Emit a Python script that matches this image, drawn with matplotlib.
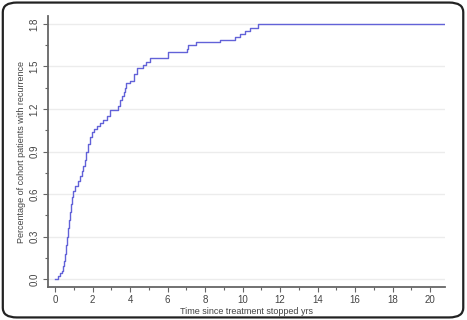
import numpy as np
import matplotlib
matplotlib.use("Agg")
import matplotlib.pyplot as plt
from matplotlib.patches import FancyBboxPatch
from matplotlib.ticker import MultipleLocator

# step curve (time in years, cumulative percentage)
times = [0.0, 0.15, 0.27, 0.35, 0.44, 0.5, 0.55, 0.6, 0.65, 0.7, 0.75, 0.8, 0.85,
         0.9, 0.97, 1.07, 1.2, 1.33, 1.42, 1.5, 1.6, 1.65, 1.75, 1.85, 1.96, 2.1,
         2.25, 2.4, 2.58, 2.75, 2.93, 3.38, 3.45, 3.56, 3.65, 3.72, 3.79, 4.0, 4.2,
         4.36, 4.71, 4.85, 5.07, 6.04, 7.02, 7.1, 7.5, 8.8, 9.6, 9.87, 10.13, 10.4,
         10.84, 20.8]
pct = [0.0, 0.02, 0.04, 0.06, 0.09, 0.13, 0.18, 0.24, 0.30, 0.36, 0.42, 0.47, 0.53,
       0.58, 0.62, 0.66, 0.69, 0.73, 0.76, 0.80, 0.84, 0.90, 0.95, 1.00, 1.04, 1.06,
       1.08, 1.10, 1.12, 1.15, 1.19, 1.22, 1.26, 1.29, 1.32, 1.35, 1.38, 1.40, 1.45,
       1.49, 1.51, 1.53, 1.56, 1.60, 1.62, 1.65, 1.67, 1.69, 1.71, 1.73, 1.75, 1.77,
       1.80, 1.80]
xticks = [0, 2, 4, 6, 8, 10, 12, 14, 16, 18, 20]
yticks = [0.0, 0.3, 0.6, 0.9, 1.2, 1.5, 1.8]

plt.rcParams['font.family'] = ['Liberation Sans', 'DejaVu Sans']
fig = plt.figure(figsize=(4.67, 3.2), dpi=100)

# rounded frame around the whole picture
frame = FancyBboxPatch((0.006, 0.008), 0.986, 0.984, boxstyle="round,pad=0,rounding_size=0.03",
                       transform=fig.transFigure, fill=False, edgecolor="#222222", linewidth=1.6)
fig.patches.append(frame)

ax = fig.add_axes([0.103, 0.103, 0.850, 0.847])
ax.plot(times, pct, drawstyle="steps-post", color="#6262d8", linewidth=1.0)

ax.set_xlim(-0.373, 20.8)
ax.set_ylim(-0.056, 1.856)
ax.set_xticks(xticks)
ax.set_yticks(yticks)
ax.set_yticklabels([f"{v:.1f}" for v in yticks], rotation=90, va="center")
ax.xaxis.set_minor_locator(MultipleLocator(1))
ax.yaxis.set_minor_locator(MultipleLocator(0.15))

ax.grid(axis="y", which="major", color="#ececec", linewidth=1.0)
ax.set_axisbelow(True)
for s in ["top", "right"]:
    ax.spines[s].set_visible(False)
for s in ["left", "bottom"]:
    ax.spines[s].set_color("#666666")
    ax.spines[s].set_linewidth(1.3)
ax.tick_params(which="major", length=3.5, width=0.8, color="#666666", labelsize=7,
               labelcolor="#444444", pad=2.5)
ax.tick_params(which="minor", length=2, width=0.8, color="#666666")

ax.set_xlabel("Time since treatment stopped yrs", fontsize=6.5, color="#444444", labelpad=1)
ax.set_ylabel("Percentage of cohort patients with recurrence", fontsize=6.5, color="#444444", labelpad=3)

fig.savefig("out.png", dpi=100)
